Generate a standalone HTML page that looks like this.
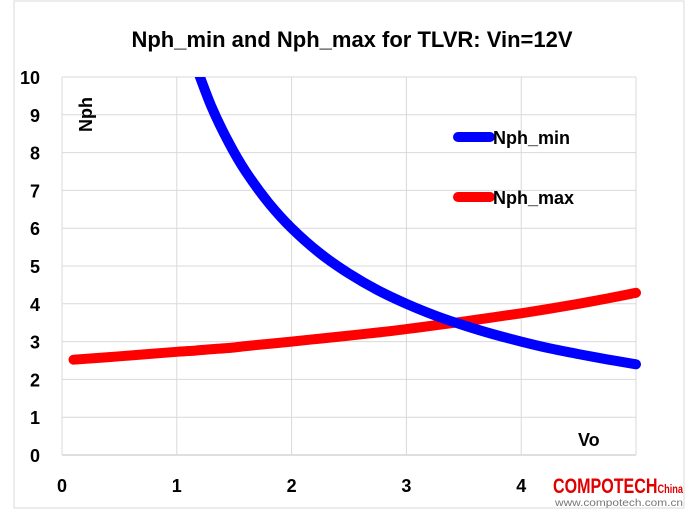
<!DOCTYPE html>
<html><head><meta charset="utf-8"><style>
html,body{margin:0;padding:0;background:#fff}
svg{display:block;font-family:"Liberation Sans",Calibri,sans-serif}
</style></head><body>
<svg width="693" height="511" viewBox="0 0 693 511">
<defs><clipPath id="pc"><rect x="40" y="77" width="620" height="400"/></clipPath></defs>
<rect x="14" y="1" width="670" height="507" fill="#fff" stroke="#d9d9d9"/>
<text x="352" y="47" text-anchor="middle" font-size="22" font-weight="bold" fill="#000">Nph_min and Nph_max for TLVR: Vin=12V</text>
<g id="grid"></g><g id="ticks"></g><g id="series" clip-path="url(#pc)"></g>
<text transform="translate(92,132) rotate(-90)" font-size="18" font-weight="bold">Nph</text>
<text x="578" y="446" font-size="18" font-weight="bold">Vo</text>
<g>
<line x1="458" y1="137" x2="490" y2="137" stroke="#0000ff" stroke-width="10" stroke-linecap="round"/>
<text x="493" y="144" font-size="18" font-weight="bold">Nph_min</text>
<line x1="458" y1="197" x2="490" y2="197" stroke="#ff0000" stroke-width="10" stroke-linecap="round"/>
<text x="493" y="204" font-size="18" font-weight="bold">Nph_max</text>
</g>
<text x="553" y="493" font-size="21" font-weight="bold" fill="#e00000" textLength="130" lengthAdjust="spacingAndGlyphs">COMPOTECH<tspan font-size="12">China</tspan></text>
<text x="555" y="506" font-size="10" fill="#777" textLength="128" lengthAdjust="spacingAndGlyphs">www.compotech.com.cn</text>
</svg>
<script>
const xTicks=[0,1,2,3,4,5];
const yTicks=[0,1,2,3,4,5,6,7,8,9,10];
const xLabels=["0","1","2","3","4",""];
const vo=[0.1,0.5,1.0,1.15,1.3,1.45,1.6,1.8,2.0,2.25,2.5,2.75,3.0,3.25,3.5,3.75,4.0,4.25,4.5,4.75,5.0];
const nphMin=[null,null,null,10.43,9.23,8.28,7.5,6.67,6.0,5.33,4.8,4.36,4.0,3.69,3.43,3.2,3.0,2.82,2.67,2.53,2.4];
const nphMax=[2.52,2.61,2.73,2.76,2.80,2.83,2.88,2.94,3.0,3.08,3.16,3.24,3.33,3.43,3.53,3.64,3.75,3.87,4.0,4.14,4.29];
const L=62,R=636,T=77,B=455;
const sx=v=>L+(R-L)*v/5, sy=v=>B-(B-T)*v/10;
const NS="http://www.w3.org/2000/svg";
function mk(t,a,p){const e=document.createElementNS(NS,t);for(const k in a)e.setAttribute(k,a[k]);p.appendChild(e);return e;}
const g=document.getElementById('grid'),tk=document.getElementById('ticks'),s=document.getElementById('series');
yTicks.forEach(v=>{const e=mk('line',{x1:L,x2:R,y1:sy(v),y2:sy(v),stroke:v===0?'#bfbfbf':'#d9d9d9','stroke-width':1},g);


const t=mk('text',{x:40,y:sy(v)+7,'text-anchor':'end','font-size':18,'font-weight':'bold'},tk);t.textContent=v;

});
xTicks.forEach((v,i)=>{const e=mk('line',{x1:sx(v),x2:sx(v),y1:T,y2:B,stroke:'#d9d9d9','stroke-width':1},g);


const t=mk('text',{x:sx(v),y:492,'text-anchor':'middle','font-size':18,'font-weight':'bold'},tk);t.textContent=xLabels[i];

});
function line(arr,col,name,capStart){const pts=[];arr.forEach((v,i)=>{if(v!=null)pts.push([sx(vo[i]),sy(v)]);});
let d='M'+pts[0][0].toFixed(1)+','+pts[0][1].toFixed(1);
for(let i=0;i<pts.length-1;i++){const p0=pts[i-1]||pts[i],p1=pts[i],p2=pts[i+1],p3=pts[i+2]||p2;
const c1=[p1[0]+(p2[0]-p0[0])/6,p1[1]+(p2[1]-p0[1])/6],c2=[p2[0]-(p3[0]-p1[0])/6,p2[1]-(p3[1]-p1[1])/6];
d+='C'+c1.map(n=>n.toFixed(1))+' '+c2.map(n=>n.toFixed(1))+' '+p2[0].toFixed(1)+','+p2[1].toFixed(1);}
const p=mk('path',{d:d,fill:'none',stroke:col,'stroke-width':10,'stroke-linecap':'round','stroke-linejoin':'round'},s);

}
line(nphMax,'#ff0000','series-nph-max');
line(nphMin,'#0000ff','series-nph-min');
</script>
</body></html>
